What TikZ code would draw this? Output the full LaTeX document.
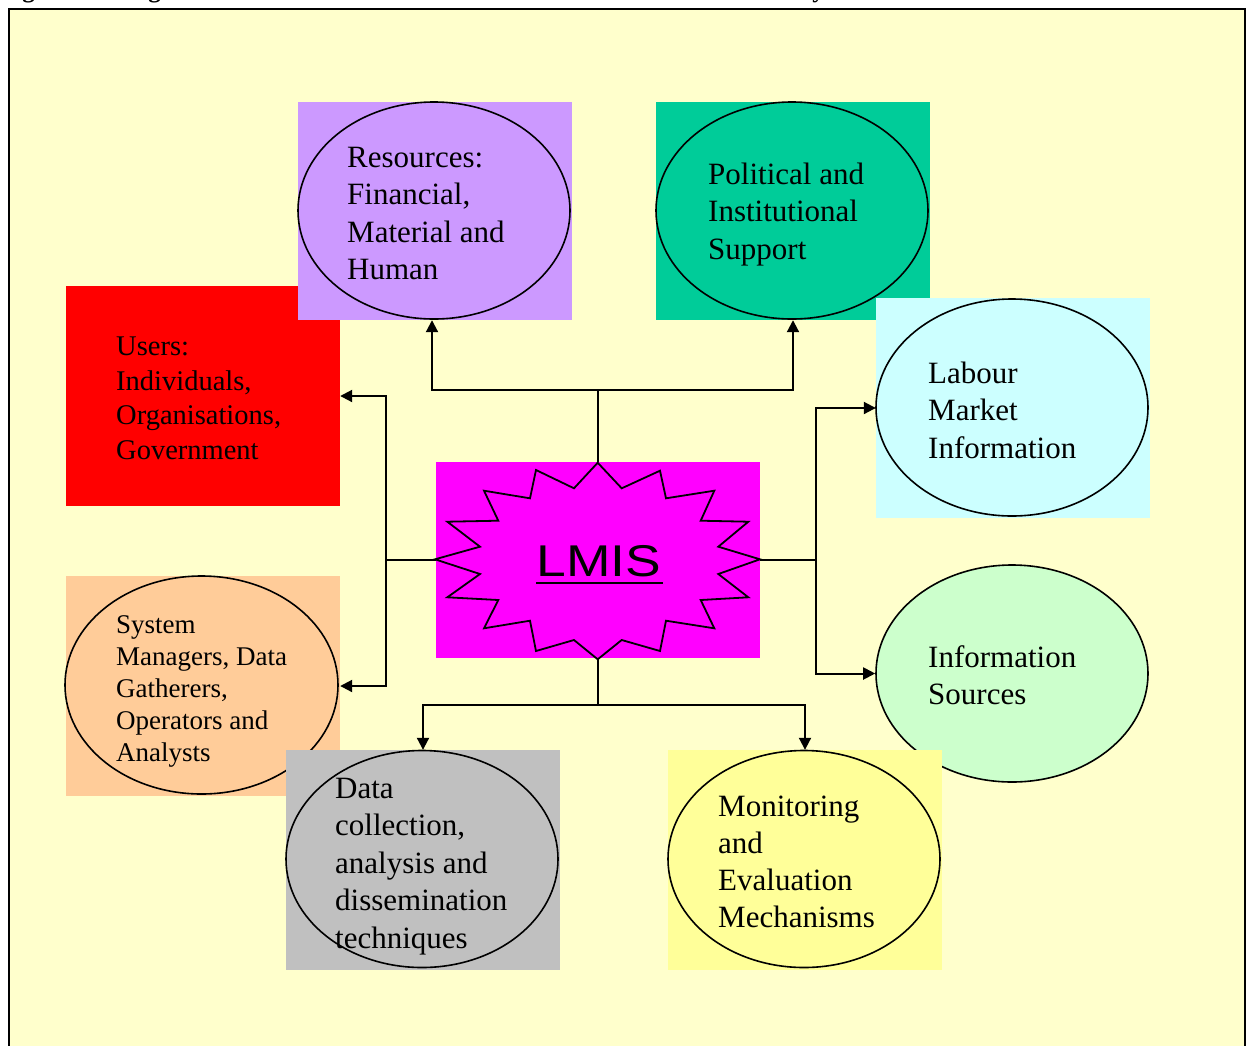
\documentclass[tikz,border=0pt]{standalone}
\usepackage{fontspec}
\setmainfont{Liberation Serif}
\newfontfamily\lmissans{Liberation Sans}
\usetikzlibrary{arrows.meta,shapes.geometric}
\definecolor{bgyellow}{HTML}{FFFFCC}
\definecolor{respurple}{HTML}{CC99FF}
\definecolor{polteal}{HTML}{00CC99}
\definecolor{usersred}{HTML}{FF0000}
\definecolor{labcyan}{HTML}{CCFFFF}
\definecolor{syspeach}{HTML}{FFCC99}
\definecolor{infogreen}{HTML}{CCFFCC}
\definecolor{datagray}{HTML}{C0C0C0}
\definecolor{monyellow}{HTML}{FFFF99}
\definecolor{lmismag}{HTML}{FF00FF}
\begin{document}
\begin{tikzpicture}[x=1pt,y=-1pt,
  box/.style={rectangle, draw=none, inner sep=0pt, minimum width=274pt, minimum height=219pt},
  oval/.style={ellipse, draw, line width=1.6pt, inner sep=0pt, minimum width=272pt, minimum height=217pt},
  txt/.style={anchor=north west, inner sep=0pt, align=left, font=\fontsize{31}{37.5}\selectfont},
  link/.style={draw, line width=2pt},
  arr/.style={link, -{Triangle[length=12pt,width=12pt]}}]
\useasboundingbox (0,0) rectangle (1247,1045);
\node[anchor=base west, inner sep=0pt, font=\bfseries\fontsize{25}{27}\selectfont] (title) at (0,-3) {Figure 2.1: Ingredients of an Evidence-Based Labour Market Information System};
\draw[fill=bgyellow, line width=2.5pt] (9,9) rectangle (1245,1070);

% Users
\node[box, fill=usersred, minimum height=220pt] (usersbox) at (203,396) {};
\node[txt, font=\fontsize{28.5}{34.7}\selectfont] (userstxt) at (116,331) {\strut Users:\\Individuals,\\Organisations,\\Government};

% Resources
\node[box, fill=respurple, minimum height=218pt] (resbox) at (435,211) {};
\node[oval] (resell) at (434,210.5) {};
\node[txt] (restxt) at (347,141) {\strut Resources:\\Financial,\\Material and\\Human};

% Political
\node[box, fill=polteal, minimum height=218pt] (polbox) at (793,211) {};
\node[oval] (polell) at (792,210.5) {};
\node[txt] (poltxt) at (708,158) {\strut Political and\\Institutional\\Support};

% Labour
\node[box, fill=labcyan, minimum height=220pt] (labbox) at (1013,408) {};
\node[oval] (labell) at (1012,407.5) {};
\node[txt] (labtxt) at (928,357) {\strut Labour\\Market\\Information};

% System managers
\node[box, fill=syspeach, minimum height=220pt] (sysbox) at (203,686) {};
\node[oval, minimum width=273pt, minimum height=218pt] (sysell) at (201.5,685) {};
\node[txt, font=\fontsize{27}{32}\selectfont] (systxt) at (116,611) {\strut System\\Managers, Data\\Gatherers,\\Operators and\\Analysts};

% Information sources
\node[oval, fill=infogreen] (infoell) at (1012,673.5) {};
\node[txt] (infotxt) at (928,641) {\strut Information\\Sources};

% Data collection
\node[box, fill=datagray, minimum height=220pt] (databox) at (423,860) {};
\node[oval] (dataell) at (422,859) {};
\node[txt] (datatxt) at (335,772) {\strut Data\\collection,\\analysis and\\dissemination\\techniques};

% Monitoring
\node[box, fill=monyellow, minimum height=220pt] (monbox) at (805,860) {};
\node[oval] (monell) at (804,859) {};
\node[txt, font=\fontsize{31}{36.7}\selectfont] (montxt) at (718,791) {\strut Monitoring\\and\\Evaluation\\Mechanisms};

% LMIS
\node[rectangle, fill=lmismag, inner sep=0pt, minimum width=324pt, minimum height=196pt] (lmis) at (598,560) {};
\draw[line width=1.8pt, line join=miter]
  (597.7,462.7) -- (621.7,488.3) -- (660,470.7) -- (666,498.3) -- (714.3,490.7)
  -- (700.7,520.7) -- (748.3,521.7) -- (718.3,546.7) -- (760,559.3) -- (718.3,574)
  -- (748.3,597.3) -- (700.7,600) -- (714.3,628.3) -- (666,620.7) -- (660,651)
  -- (621.7,640) -- (597.7,659.3) -- (574,640) -- (536,651) -- (530,620.7)
  -- (484,628.3) -- (498.3,600) -- (447.3,597.3) -- (480,574) -- (435,559.3)
  -- (480,546.7) -- (447.3,521.7) -- (498.3,520.7) -- (484,490.7) -- (530,498.3)
  -- (536,470) -- (574,488.3) -- cycle;
\node[inner sep=0pt, font=\lmissans\fontsize{44.5}{44.5}\selectfont] (lmistxt) at (599,561) {\scalebox{1.2}[1]{LMIS}};
\draw[line width=2pt] (536,582.5) -- (663,582.5);

% Connectors
\coordinate (tj) at (598,390);
\coordinate (lj) at (386,560);
\coordinate (rj) at (816,560);
\coordinate (bj) at (598,705);
\draw[link] (lmis.north) -- (tj);
\draw[arr] (tj) -| ([xshift=-3pt]resbox.south);
\draw[arr] (tj) -| (polbox.south);
\draw[link] (lmis.west) -- (lj);
\draw[arr] (lj) |- (usersbox.east);
\draw[arr] (lj) |- (sysbox.east);
\draw[link] (lmis.east) -- (rj);
\draw[arr] (rj) |- (labbox.west);
\draw[arr] (rj) |- (infoell.west);
\draw[link] (lmis.south) -- (bj);
\draw[arr] (bj) -| (databox.north);
\draw[arr] (bj) -| (monbox.north);
\end{tikzpicture}
\end{document}
